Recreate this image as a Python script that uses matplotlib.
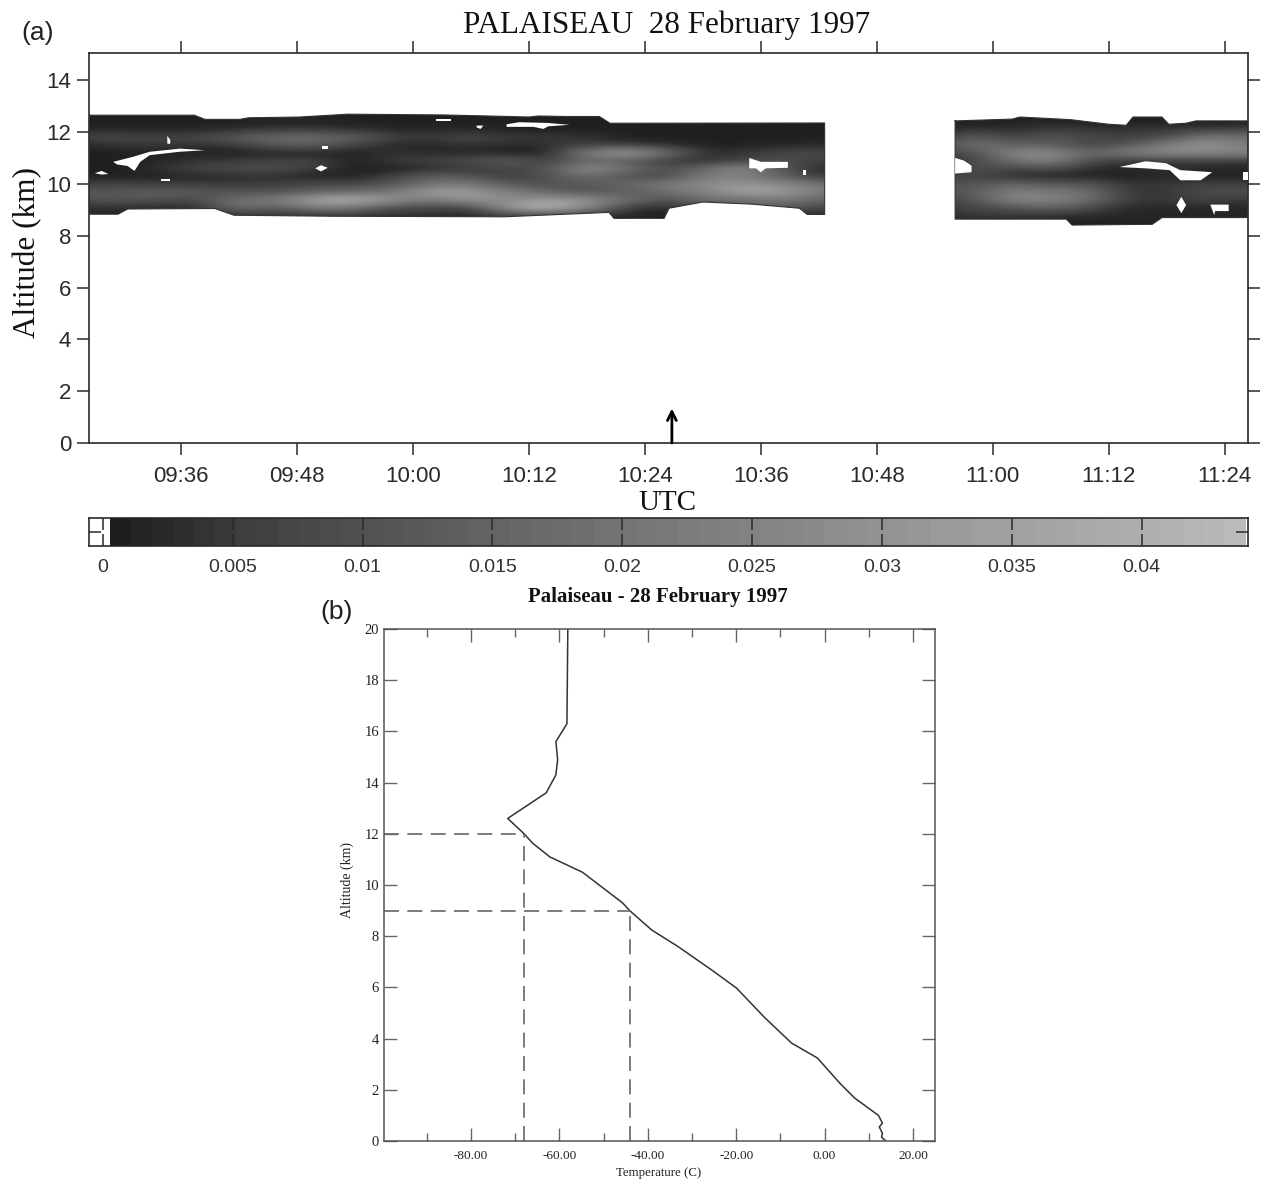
import numpy as np
import matplotlib
matplotlib.use('Agg')
import matplotlib.pyplot as plt
from matplotlib.colors import LinearSegmentedColormap
from matplotlib.patches import PathPatch
from matplotlib.path import Path

W, H = 1263, 1181
SANS = 'Liberation Sans'
SERIF = 'Liberation Serif'

# time axis of panel (a), minutes after midnight
time_ticks = [576, 588, 600, 612, 624, 636, 648, 660, 672, 684]
time_labels = ['09:36', '09:48', '10:00', '10:12', '10:24', '10:36', '10:48', '11:00', '11:12', '11:24']
alt_ticks_a = [0, 2, 4, 6, 8, 10, 12, 14]
arrow_time = 626.8

# backscatter grid, in units of 0.001
grid_times = [566, 570, 574, 578, 582, 586, 590, 594, 598, 602, 606, 610, 614, 618, 622, 626, 630, 634, 638, 642,
              646, 650, 654, 658, 662, 666, 670, 674, 678, 682, 686]
grid_alts = [12.7, 12.4, 12.1, 11.8, 11.5, 11.2, 10.9, 10.6, 10.3, 10.0, 9.7, 9.4, 9.1, 8.8, 8.5]
backscatter = [
    [1, 1, 1, 1, 1, 1, 1, 1, 1, 1, 1, 1, 1, 1, 1, 1, 1, 1, 1, 1, 1, 1, 1, 1, 1, 1, 1, 1, 1, 1, 1],
    [1, 1, 1, 1, 1, 2, 2, 1, 1, 1, 1, 1, 1, 1, 1, 1, 1, 1, 1, 1, 1, 1, 1, 1, 1, 2, 1, 1, 1, 1, 1],
    [2, 2, 2, 2, 3, 4, 4, 3, 2, 2, 2, 1, 1, 1, 1, 1, 1, 1, 1, 1, 1, 1, 1, 4, 3, 5, 4, 4, 5, 5, 6],
    [7, 8, 6, 8, 13, 18, 18, 15, 6, 5, 8, 5, 5, 4, 1, 1, 1, 1, 1, 1, 1, 1, 2, 14, 6, 12, 8, 6, 8, 22, 18],
    [2, 4, 5, 3, 5, 12, 13, 6, 2, 2, 4, 2, 3, 6, 5, 3, 1, 1, 2, 2, 3, 5, 9, 20, 14, 13, 7, 11, 24, 32, 22],
    [1, 1, 1, 1, 1, 1, 1, 1, 4, 2, 2, 1, 1, 24, 36, 20, 4, 4, 8, 8, 9, 9, 6, 8, 26, 30, 14, 24, 28, 26, 26],
    [1, 1, 2, 4, 5, 7, 7, 1, 5, 7, 9, 14, 5, 15, 12, 5, 2, 6, 9, 6, 5, 3, 2, 7, 18, 26, 8, 4, 4, 6, 4],
    [1, 1, 4, 7, 9, 9, 5, 1, 1, 2, 5, 7, 10, 30, 20, 9, 16, 30, 12, 2, 2, 2, 2, 11, 7, 9, 3, 2, 4, 2, 2],
    [1, 1, 1, 2, 3, 3, 1, 1, 6, 14, 10, 5, 10, 18, 10, 6, 22, 24, 14, 4, 4, 4, 4, 8, 2, 1, 1, 1, 2, 1, 1],
    [6, 6, 6, 5, 5, 6, 8, 8, 11, 20, 22, 11, 10, 12, 16, 22, 28, 32, 28, 20, 15, 12, 10, 11, 16, 12, 11, 4, 5, 6, 6],
    [12, 12, 14, 12, 10, 10, 14, 16, 20, 36, 32, 24, 15, 10, 12, 18, 24, 36, 34, 24, 16, 12, 10, 12, 24, 22, 18, 4, 4, 9, 10],
    [10, 11, 10, 8, 20, 22, 38, 42, 30, 20, 34, 26, 34, 30, 20, 9, 18, 18, 22, 16, 10, 8, 7, 10, 26, 26, 18, 5, 5, 7, 4],
    [3, 3, 2, 3, 20, 12, 24, 20, 8, 8, 5, 34, 44, 28, 5, 2, 8, 12, 12, 8, 6, 5, 4, 7, 10, 16, 8, 2, 2, 2, 2],
    [2, 2, 2, 2, 4, 3, 4, 4, 3, 3, 2, 6, 6, 4, 2, 1, 2, 3, 2, 2, 2, 2, 2, 5, 5, 3, 3, 2, 2, 2, 2],
    [1, 1, 1, 1, 1, 1, 1, 1, 1, 1, 1, 1, 1, 1, 1, 1, 1, 1, 1, 1, 1, 1, 1, 1, 1, 1, 1, 1, 1, 1, 1],
]

# cloud outline, two pieces either side of the data gap
top_times_1 = [566.5, 577.4, 578.5, 582.1, 583, 588.3, 593.3, 603.2, 610, 612, 613, 616, 619.3, 620.4, 642.6]
top_alts_1 = [12.65, 12.65, 12.49, 12.49, 12.55, 12.58, 12.69, 12.66, 12.6, 12.58, 12.62, 12.6, 12.6, 12.34, 12.35]
base_times_1 = [566.5, 569.5, 570.5, 579.5, 581.5, 592, 609.5, 620.3, 620.8, 626, 626.5, 630, 635, 640, 640.8, 642.6]
base_alts_1 = [8.83, 8.83, 9.03, 9.05, 8.79, 8.75, 8.73, 8.9, 8.67, 8.67, 9.06, 9.3, 9.22, 9.06, 8.82, 8.82]
top_times_2 = [656.1, 662, 662.8, 668, 672, 673.8, 674.5, 677.5, 678.2, 680, 681, 686.4]
top_alts_2 = [12.43, 12.5, 12.58, 12.48, 12.3, 12.26, 12.58, 12.58, 12.3, 12.34, 12.43, 12.43]
base_times_2 = [656.1, 667.6, 668.2, 676.5, 677.5, 686.4]
base_alts_2 = [8.64, 8.64, 8.41, 8.44, 8.7, 8.7]

# white holes in the cloud, (times, altitudes)
holes = [
    ([569.0, 571.0, 572.8, 575.9, 578.5, 575.9, 572.8, 571.8, 571.2, 570.5, 569.4],
     [10.85, 11.04, 11.24, 11.36, 11.30, 11.24, 11.11, 10.85, 10.50, 10.69, 10.75]),
    ([567.1, 567.8, 568.5, 567.8], [10.41, 10.5, 10.38, 10.36]),
    ([574.6, 574.9, 574.9, 574.6], [11.85, 11.7, 11.55, 11.55]),
    ([589.9, 590.5, 591.2, 590.5], [10.6, 10.72, 10.62, 10.48]),
    ([590.6, 591.2, 591.2, 590.6], [11.45, 11.45, 11.35, 11.35]),
    ([574.0, 574.9, 574.9, 574.0], [10.17, 10.17, 10.11, 10.11]),
    ([609.7, 611, 614, 616.2, 614, 613.5, 612.5, 609.7], [12.3, 12.38, 12.35, 12.28, 12.22, 12.12, 12.2, 12.2]),
    ([602.4, 604, 604, 602.4], [12.5, 12.5, 12.42, 12.42]),
    ([606.6, 607.3, 607, 606.6], [12.25, 12.25, 12.12, 12.18]),
    ([634.8, 636, 638.8, 638.8, 636.5, 636, 635.5, 634.8], [11.0, 10.85, 10.85, 10.62, 10.6, 10.45, 10.6, 10.6]),
    ([640.4, 640.7, 640.7, 640.4], [10.55, 10.55, 10.35, 10.35]),
    ([656.1, 657, 657.8, 657.8, 656.1], [11.0, 10.9, 10.7, 10.45, 10.4]),
    ([673.1, 675.8, 677.9, 679.4, 682.7, 681.5, 679.4, 678.3, 675.8],
     [10.65, 10.87, 10.8, 10.53, 10.45, 10.14, 10.14, 10.53, 10.6]),
    ([679.0, 679.5, 680.0, 679.5], [9.18, 9.5, 9.18, 8.87]),
    ([682.5, 684.4, 684.4, 683.0, 682.9], [9.2, 9.2, 8.95, 8.95, 8.8]),
    ([685.9, 686.4, 686.4, 685.9], [10.45, 10.45, 10.15, 10.15]),
]

# colour scale of panel (a)
cbar_ticks = [0, 0.005, 0.01, 0.015, 0.02, 0.025, 0.03, 0.035, 0.04]
cbar_labels = ['0', '0.005', '0.01', '0.015', '0.02', '0.025', '0.03', '0.035', '0.04']

# temperature sounding of panel (b)
sounding_alt = [20, 16.3, 15.6, 14.9, 14.3, 13.6, 12.6, 12, 11.64, 11.1, 10.5, 9.3, 9, 8.24, 7.6, 6.7, 5.97, 4.83, 3.83,
                3.24, 2.27, 1.68, 1.0, 0.7, 0.55, 0.3, 0.15, 0]
sounding_temp = [-58.1, -58.3, -60.8, -60.4, -60.8, -63, -71.7, -68, -66.1, -62.2, -54.8, -45.7, -44.1, -39.1, -33.2, -25.7,
                 -19.9, -13.6, -7.5, -1.6, 3.4, 6.8, 12.2, 13.1, 12.4, 13.1, 12.9, 13.9]
tropo_alt = [12, 9]
tropo_temp = [-68, -44.1]
temp_major = [-80, -60, -40, -20, 0, 20]
temp_labels = ['-80.00', '-60.00', '-40.00', '-20.00', '0.00', '20.00']
temp_minor = [-90, -70, -50, -30, -10, 10]
alt_ticks_b = [0, 2, 4, 6, 8, 10, 12, 14, 16, 18, 20]


def axes_px(left, top, right, bottom):
    return fig.add_axes([left / W, 1 - bottom / H, (right - left) / W, (bottom - top) / H])


def label_px(x, y, s, **kw):
    fig.text(x / W, 1 - y / H, s, ha='center', va='center', **kw)


def px(n):
    # pixels to points
    return n * 0.72


cmap = LinearSegmentedColormap.from_list('cloud', [(0, '#1a1a1a'), (0.125, '#3e3e3e'), (0.25, '#555555'),
                                                   (0.375, '#696969'), (0.5, '#7a7a7a'), (0.625, '#8a8a8a'),
                                                   (0.75, '#9c9c9c'), (0.875, '#aaaaaa'), (1, '#bbbbbb')])
dark = '#2a2a2a'

fig = plt.figure(figsize=(W / 100, H / 100), dpi=100)

# panel (a)
ax = axes_px(89, 52.5, 1248, 443)
step_t = grid_times[1] - grid_times[0]
extent = [grid_times[0] - step_t / 2, grid_times[-1] + step_t / 2, grid_alts[-1] - 0.15, grid_alts[0] + 0.15]
im = ax.imshow(np.array(backscatter) / 1000, extent=extent, origin='upper', aspect='auto', cmap=cmap,
               vmin=0, vmax=0.044, interpolation='bicubic')
pieces = []
for tt, ta, bt, ba in [(top_times_1, top_alts_1, base_times_1, base_alts_1),
                       (top_times_2, top_alts_2, base_times_2, base_alts_2)]:
    xs = list(tt) + list(bt[::-1])
    ys = list(ta) + list(ba[::-1])
    pieces.append(Path(np.column_stack([xs, ys]), closed=False))
outline = Path.make_compound_path(*pieces)
clip_patch = PathPatch(outline, facecolor='none', edgecolor='none', transform=ax.transData)
ax.add_patch(clip_patch)
im.set_clip_path(clip_patch)
for piece in pieces:
    closed = np.vstack([piece.vertices, piece.vertices[:1]])
    ax.plot(closed[:, 0], closed[:, 1], color='#333333', lw=0.8, zorder=3)
for hole_t, hole_a in holes:
    ax.fill(hole_t, hole_a, color='white', lw=0, zorder=4)
ax.set_xlim(566.5, 686.4)
ax.set_ylim(0, 15.07)
ax.set_xticks(time_ticks)
ax.set_xticklabels(time_labels, family=SANS, fontsize=16, color=dark)
ax.set_yticks(alt_ticks_a)
ax.set_yticklabels(alt_ticks_a, family=SANS, fontsize=16, color=dark)
ax.tick_params(axis='both', length=px(12), width=1.1, color=dark, top=True, right=True)
ax.tick_params(axis='x', pad=px(11))
ax.tick_params(axis='y', pad=px(6))
for s in ax.spines.values():
    s.set_linewidth(1.2)
    s.set_color(dark)
ax.annotate('', xy=(arrow_time, 1.33), xytext=(arrow_time, 0),
            arrowprops=dict(arrowstyle='->', color='black', lw=2, shrinkA=0, shrinkB=0, mutation_scale=16))

# colour bar
cax = axes_px(89, 518, 1248, 546)
edges = 0.00027 + 0.00081 * np.arange(55)
edges = np.concatenate([[-0.00054], edges])
vals = (edges[:-1] + edges[1:]) / 2
shades = [cmap(v / 0.044) for v in vals]
shades[0] = 'white'
cax.bar(vals, 1, width=np.diff(edges), color=shades, align='center', linewidth=0)
cax.set_xlim(-0.00054, 0.0441)
cax.set_ylim(0, 1)
cax.set_xticks(cbar_ticks)
cax.set_xticklabels(cbar_labels, family=SANS, fontsize=14, color='#333333')
cax.set_yticks([0.5])
cax.set_yticklabels([])
cax.tick_params(axis='x', direction='in', length=px(12), width=1.1, color=dark, top=True, pad=px(13))
cax.tick_params(axis='y', direction='in', length=px(12), width=1.1, color=dark, right=True)
for s in cax.spines.values():
    s.set_linewidth(1.2)
    s.set_color(dark)

# panel (b)
bx = axes_px(384, 629, 935, 1141)
bx.plot(sounding_temp, sounding_alt, color='#333333', lw=1.1)
for t, a in zip(tropo_temp, tropo_alt):
    bx.plot([-99.7, t], [a, a], color='#666666', lw=1.2, dashes=(9, 5))
    bx.plot([t, t], [0, a], color='#666666', lw=1.2, dashes=(9, 5))
bx.set_xlim(-99.7, 25)
bx.set_ylim(0, 20)
bx.set_xticks(temp_major)
bx.set_xticklabels(temp_labels, family=SERIF, fontsize=9.5, color='#222222')
bx.set_xticks(temp_minor, minor=True)
bx.set_yticks(alt_ticks_b)
bx.set_yticklabels(alt_ticks_b, family=SERIF, fontsize=10.5, color='#222222')
bx.tick_params(axis='x', which='major', direction='in', length=px(13), width=1.0, color='#666666', top=True, pad=px(9))
bx.tick_params(axis='x', which='minor', direction='in', length=px(8), width=1.0, color='#666666', top=True)
bx.tick_params(axis='y', direction='in', length=px(13), width=1.0, color='#666666', right=True, pad=px(5))
for s in bx.spines.values():
    s.set_linewidth(1.1)
    s.set_color('#555555')

# text
label_px(667, 25, 'PALAISEAU  28 February 1997', family=SERIF, fontsize=22.4, color='#111111')
label_px(38, 33, '(a)', family=SANS, fontsize=19, color='#222222')
label_px(28, 252, 'Altitude (km)', family=SERIF, fontsize=22.5, rotation=90, color='#111111')
label_px(668, 503, 'UTC', family=SERIF, fontsize=21, color='#111111')
label_px(337, 612, '(b)', family=SANS, fontsize=19, color='#222222')
label_px(658, 597, 'Palaiseau - 28 February 1997', family=SERIF, fontsize=15, fontweight='bold', color='#111111')
label_px(659, 1173, 'Temperature (C)', family=SERIF, fontsize=9.3, color='#222222')
label_px(347, 880, 'Altitude (km)', family=SERIF, fontsize=10, rotation=90, color='#222222')

fig.savefig('out.png', dpi=100)
